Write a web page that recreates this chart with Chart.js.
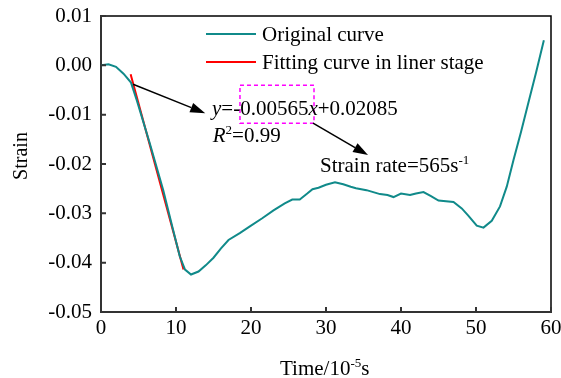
<!DOCTYPE html>
<html>
<head>
<meta charset="utf-8">
<script src="https://cdn.jsdelivr.net/npm/chart.js@4/dist/chart.umd.min.js"></script>
<style>
  html, body { margin: 0; padding: 0; background: #fff; }
  #wrap { width: 561px; height: 378px; }
</style>
</head>
<body>
<div id="wrap"><canvas id="strainChart" width="561" height="378"></canvas></div>
<script>
// Original curve (time in 10^-5 s, strain)
const timeValues = [0, 1, 2, 3, 4, 4.8, 6.5, 8.3, 9.6, 10.5, 11.2, 12, 13, 14, 15, 16, 17, 18.5, 20, 21.5,
  23, 24.5, 25.5, 26.5, 27.5, 28.2, 29, 30, 31.2, 32.3, 33.3, 34, 35.4, 36.3, 37.2, 38.2, 39, 40, 41.2, 42,
  43, 44, 45, 47, 48.1, 49, 50.1, 51, 52.1, 53.2, 54.1, 55, 56, 57, 58, 59.05];
const strainValues = [0, 0.0002, -0.0003, -0.0017, -0.0035, -0.0072, -0.0158, -0.0253, -0.0333, -0.0387,
  -0.0414, -0.0424, -0.0418, -0.0405, -0.039, -0.0371, -0.0354, -0.034, -0.0325, -0.031,
  -0.0294, -0.028, -0.0272, -0.0272, -0.026, -0.0251, -0.0248, -0.0242, -0.0237, -0.0241,
  -0.0246, -0.0249, -0.0253, -0.0257, -0.0261, -0.0263, -0.0267, -0.026, -0.0263, -0.026,
  -0.0257, -0.0265, -0.0274, -0.0277, -0.029, -0.0305, -0.0325, -0.0329, -0.0315, -0.0286,
  -0.0246, -0.0192, -0.0135, -0.0075, -0.0015, 0.0051];

// Fitting line in the linear stage
const fitTime = [3.95, 11];
const fitStrain = [-0.0018, -0.0414];

const xTickValues = [0, 10, 20, 30, 40, 50, 60];
const yTickValues = [0.01, 0.00, -0.01, -0.02, -0.03, -0.04, -0.05];

const seriesNames = ['Original curve', 'Fitting curve in liner stage'];

const FONT = "'Liberation Serif', 'Times New Roman', serif";
const TEAL = '#108a8a';
const RED = '#ff0000';

// annotation anchors in data coordinates
const notes = {
  arrow1: { from: [4.27, -0.00384], to: [13.9, -0.0097] },
  arrow2: { from: [28.27, -0.01172], to: [35.6, -0.0182] },
  box: { x1: 18.53, x2: 28.4, y1: -0.00404, y2: -0.01172 },
  equation: [14.8, -0.0101],
  r2: [14.9, -0.01556],
  rate: [29.2, -0.0216]
};

function toPoints(xs, ys) {
  return xs.map((x, i) => ({ x: x, y: ys[i] }));
}

function drawRich(ctx, parts, x, y, size) {
  let cx = x;
  parts.forEach(p => {
    const fs = p.sup ? size * 0.62 : size;
    ctx.font = (p.italic ? 'italic ' : '') + fs + 'px ' + FONT;
    const dy = p.sup ? -size * 0.38 : 0;
    ctx.fillText(p.t, cx, y + dy);
    cx += ctx.measureText(p.t).width;
  });
  return cx - x;
}

function arrow(ctx, x1, y1, x2, y2) {
  const ang = Math.atan2(y2 - y1, x2 - x1);
  const len = 15, half = 5;
  const bx = x2 - len * Math.cos(ang), by = y2 - len * Math.sin(ang);
  ctx.beginPath();
  ctx.moveTo(x1, y1);
  ctx.lineTo(bx, by);
  ctx.stroke();
  ctx.beginPath();
  ctx.moveTo(x2, y2);
  ctx.lineTo(bx + half * Math.sin(ang), by - half * Math.cos(ang));
  ctx.lineTo(bx - half * Math.sin(ang), by + half * Math.cos(ang));
  ctx.closePath();
  ctx.fill();
}

// keep tick labels from pushing the plot area around
function noLabelPadding(s) {
  s.paddingTop = 0;
  s.paddingBottom = 0;
  s.paddingLeft = 0;
  s.paddingRight = 0;
}

const decorPlugin = {
  id: 'decor',
  afterDraw(chart) {
    const { ctx, chartArea: a, scales: { x, y } } = chart;
    ctx.save();

    // top and right frame
    ctx.strokeStyle = '#000';
    ctx.lineWidth = 1.5;
    ctx.beginPath();
    ctx.moveTo(a.left, a.top);
    ctx.lineTo(a.right, a.top);
    ctx.lineTo(a.right, a.bottom);
    ctx.stroke();

    // inward ticks
    ctx.strokeStyle = '#333';
    ctx.lineWidth = 2;
    ctx.beginPath();
    xTickValues.forEach(v => {
      const px = x.getPixelForValue(v);
      ctx.moveTo(px, a.bottom);
      ctx.lineTo(px, a.bottom - 5);
    });
    yTickValues.forEach(v => {
      const py = y.getPixelForValue(v);
      ctx.moveTo(a.left, py);
      ctx.lineTo(a.left + 5, py);
    });
    ctx.stroke();

    // axis titles
    ctx.fillStyle = '#000';
    ctx.textBaseline = 'alphabetic';
    ctx.save();
    ctx.translate(27, 156);
    ctx.rotate(-Math.PI / 2);
    ctx.font = '20px ' + FONT;
    ctx.textAlign = 'center';
    ctx.fillText('Strain', 0, 0);
    ctx.restore();
    ctx.textAlign = 'left';
    drawRich(ctx, [{ t: 'Time/10' }, { t: '-5', sup: true }, { t: 's' }], 280, 375, 21);

    // legend
    chart.data.datasets.forEach((ds, i) => {
      const ly = 34 + i * 28;
      ctx.strokeStyle = ds.borderColor;
      ctx.lineWidth = 2;
      ctx.beginPath();
      ctx.moveTo(206, ly);
      ctx.lineTo(256, ly);
      ctx.stroke();
      ctx.font = '21px ' + FONT;
      ctx.fillText(ds.label, 262, ly + 7);
    });

    // dashed box
    const b = notes.box;
    ctx.strokeStyle = '#ff00ff';
    ctx.lineWidth = 1.5;
    ctx.setLineDash([4, 3]);
    const bx1 = x.getPixelForValue(b.x1), bx2 = x.getPixelForValue(b.x2);
    const by1 = y.getPixelForValue(b.y1), by2 = y.getPixelForValue(b.y2);
    ctx.strokeRect(bx1, by1, bx2 - bx1, by2 - by1);
    ctx.setLineDash([]);

    // arrows
    ctx.strokeStyle = '#000';
    ctx.fillStyle = '#000';
    ctx.lineWidth = 1.5;
    [notes.arrow1, notes.arrow2].forEach(ar => {
      arrow(ctx, x.getPixelForValue(ar.from[0]), y.getPixelForValue(ar.from[1]),
        x.getPixelForValue(ar.to[0]), y.getPixelForValue(ar.to[1]));
    });

    // texts
    const px = p => [x.getPixelForValue(p[0]), y.getPixelForValue(p[1])];
    let [ex, ey] = px(notes.equation);
    drawRich(ctx, [{ t: 'y', italic: true }, { t: '=-0.00565' }, { t: 'x', italic: true }, { t: '+0.02085' }], ex, ey, 21);
    [ex, ey] = px(notes.r2);
    drawRich(ctx, [{ t: 'R', italic: true }, { t: '2', sup: true }, { t: '=0.99' }], ex, ey, 21);
    [ex, ey] = px(notes.rate);
    drawRich(ctx, [{ t: 'Strain rate=565s' }, { t: '-1', sup: true }], ex, ey, 21);

    ctx.restore();
  }
};

new Chart(document.getElementById('strainChart'), {
  type: 'scatter',
  data: {
    datasets: [
      {
        label: seriesNames[0],
        data: toPoints(timeValues, strainValues),
        showLine: true,
        borderColor: TEAL,
        borderWidth: 2,
        pointRadius: 0,
        tension: 0
      },
      {
        label: seriesNames[1],
        data: toPoints(fitTime, fitStrain),
        showLine: true,
        borderColor: RED,
        borderWidth: 2,
        pointRadius: 0
      }
    ]
  },
  options: {
    responsive: false,
    animation: false,
    layout: { padding: { top: 16, right: 10, left: 0, bottom: 0 } },
    plugins: {
      legend: { display: false },
      tooltip: { enabled: false }
    },
    scales: {
      x: {
        type: 'linear',
        min: 0,
        max: 60,
        afterFit: s => { s.height = 66; noLabelPadding(s); },
        afterBuildTicks: s => { s.ticks = xTickValues.map(v => ({ value: v })); },
        grid: { display: false, drawTicks: false },
        border: { display: true, color: '#333', width: 2 },
        ticks: {
          color: '#000',
          padding: 4,
          font: { family: FONT, size: 21 },
          callback: v => String(v)
        }
      },
      y: {
        type: 'linear',
        min: -0.05,
        max: 0.01,
        afterFit: s => { s.width = 101; noLabelPadding(s); },
        afterBuildTicks: s => { s.ticks = yTickValues.map(v => ({ value: v })); },
        grid: { display: false, drawTicks: false },
        border: { display: true, color: '#333', width: 2 },
        ticks: {
          color: '#000',
          padding: 9,
          font: { family: FONT, size: 21 },
          callback: v => v.toFixed(2)
        }
      }
    }
  },
  plugins: [decorPlugin]
});
</script>
</body>
</html>
